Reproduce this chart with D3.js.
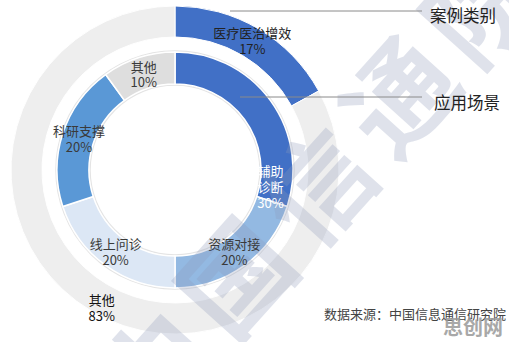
<!DOCTYPE html>
<html>
<head>
<meta charset="utf-8">
<script src="https://cdn.jsdelivr.net/npm/d3@7"></script>
<style>
  body { margin: 0; background: #fff; }
  svg { display: block; font-family: "Noto Sans CJK SC", "Noto Sans", sans-serif; }
</style>
</head>
<body>
<div id="chart"></div>
<script>
// outer ring: case category
let outerCategories = ['医疗医治增效', '其他'];
let outerValues = [17, 83];
// inner ring: application scenario
let innerCategories = ['辅助诊断', '资源对接', '线上问诊', '科研支撑', '其他'];
let innerValues = [30, 20, 20, 20, 10];
let ringTitles = ['案例类别', '应用场景'];
let sourceText = '数据来源：中国信息通信研究院';

const width = 509, height = 342;
const cx = 175, cy = 170;

let svg = d3.select('#chart').append('svg')
    .attr('width', width)
    .attr('height', height);

let outerColor = d3.scaleOrdinal().domain(outerCategories).range(['#4170c6', '#eeeeee']);
let innerColor = d3.scaleOrdinal().domain(innerCategories)
    .range(['#4170c6', '#93b9e2', '#dce7f5', '#5a98d6', '#dedede']);

let pie = d3.pie().sort(null).value(d => d.value);
let outerData = pie(outerCategories.map((c, i) => ({ name: c, value: outerValues[i] })));
let innerData = pie(innerCategories.map((c, i) => ({ name: c, value: innerValues[i] })));

let outerArc = d3.arc().innerRadius(133).outerRadius(164);
let innerArc = d3.arc().innerRadius(86).outerRadius(118);

let g = svg.append('g').attr('transform', `translate(${cx},${cy})`);

g.selectAll('path.outer')
    .data(outerData)
    .enter().append('path')
    .attr('class', 'outer')
    .attr('d', outerArc)
    .attr('fill', d => outerColor(d.data.name))
    .attr('stroke', '#fff')
    .attr('stroke-width', 1);

// soft edge round the inner ring
g.append('circle').attr('r', 119).attr('fill', 'none').attr('stroke', '#e4e4e4').attr('stroke-width', 1.5);
g.append('circle').attr('r', 85).attr('fill', 'none').attr('stroke', '#e4e4e4').attr('stroke-width', 1.5);

g.selectAll('path.inner')
    .data(innerData)
    .enter().append('path')
    .attr('class', 'inner')
    .attr('d', innerArc)
    .attr('fill', d => innerColor(d.data.name))
    .attr('stroke', '#fff')
    .attr('stroke-width', 1.5);

// watermark
svg.append('text')
    .attr('transform', 'translate(318,178) rotate(-48)')
    .attr('text-anchor', 'middle')
    .attr('dominant-baseline', 'central')
    .attr('font-size', 108)
    .attr('font-weight', 'bold')
    .attr('letter-spacing', 14)
    .attr('fill', '#8f9bbb')
    .attr('opacity', 0.28)
    .text('中国信通院');

// leader lines and ring titles
let lines = [[230, 11, 422], [240, 97, 422]];
svg.selectAll('line.lead')
    .data(lines)
    .enter().append('line')
    .attr('class', 'lead')
    .attr('x1', d => d[0]).attr('x2', d => d[2])
    .attr('y1', d => d[1]).attr('y2', d => d[1])
    .attr('stroke', '#8a8a8a')
    .attr('stroke-width', 1);

svg.selectAll('text.ring-title')
    .data(ringTitles)
    .enter().append('text')
    .attr('class', 'ring-title')
    .attr('x', (d, i) => i === 0 ? 430 : 434)
    .attr('y', (d, i) => i === 0 ? 15 : 102)
    .attr('dominant-baseline', 'central')
    .attr('font-size', 16.5)
    .attr('fill', '#222')
    .text(d => d);

// labels
function drawLabel(sel, lines, x, y, color, size) {
    let t = sel.append('text')
        .attr('text-anchor', 'middle')
        .attr('font-size', size)
        .attr('fill', color);
    let lh = size * 1.22;
    let y0 = y - (lines.length - 1) * lh / 2;
    lines.forEach((l, i) => {
        t.append('tspan')
            .attr('x', x)
            .attr('y', y0 + i * lh)
            .attr('dominant-baseline', 'central')
            .text(l);
    });
}

outerData.forEach((d, i) => {
    let a = (d.startAngle + d.endAngle) / 2;
    let r = 148;
    let x = cx + r * Math.sin(a), y = cy - r * Math.cos(a);
    if (i === 0) { x += 2; y -= 2; }
    else { x += 2; y += 10; }
    drawLabel(svg, [d.data.name, d.data.value + '%'], x, y, i === 0 ? '#222' : '#111', 13);
});

innerData.forEach((d, i) => {
    let a = (d.startAngle + d.endAngle) / 2;
    let r = 101;
    let parts = [d.data.name, d.data.value + '%'];
    if (i === 0) {
        // wrapped label sits lower in the segment
        a = Math.PI * 100 / 180;
        r = 97;
        parts = [d.data.name.slice(0, 2), d.data.name.slice(2), d.data.value + '%'];
    }
    let x = cx + r * Math.sin(a), y = cy - r * Math.cos(a);
    drawLabel(svg, parts, x, y, i === 0 ? '#fff' : '#3a3a3a', 13);
});

// source
svg.append('text')
    .attr('x', 506)
    .attr('y', 313)
    .attr('text-anchor', 'end')
    .attr('dominant-baseline', 'central')
    .attr('font-size', 13)
    .attr('fill', '#444')
    .text(sourceText);

svg.append('text')
    .attr('x', 503)
    .attr('y', 326)
    .attr('text-anchor', 'end')
    .attr('dominant-baseline', 'central')
    .attr('font-size', 20)
    .attr('font-weight', 'bold')
    .attr('fill', '#9a9a9a')
    .attr('opacity', 0.85)
    .text('思创网');
</script>
</body>
</html>
